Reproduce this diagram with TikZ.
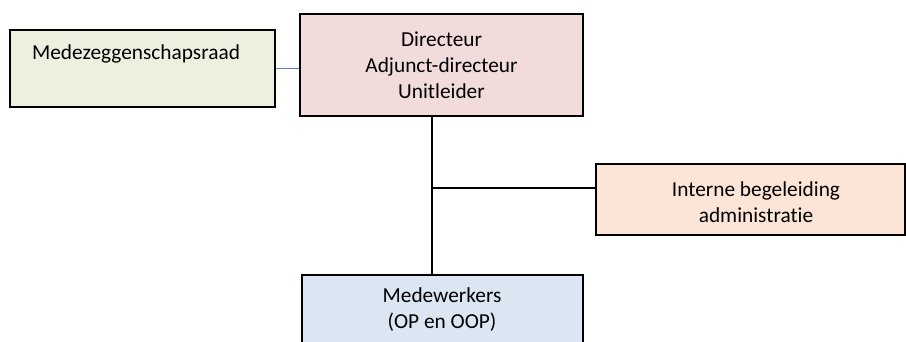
\documentclass[tikz,border=0pt]{standalone}
\usepackage{fontspec}
\setmainfont[Ligatures=NoCommon]{Carlito}
\usetikzlibrary{positioning, calc}

\definecolor{mrgreen}{HTML}{EBF1DE}
\definecolor{dirpink}{HTML}{F2DCDB}
\definecolor{ibpeach}{HTML}{FCE4D6}
\definecolor{mwblue}{HTML}{DCE6F2}
\definecolor{linkblue}{HTML}{4F81BD}

\begin{document}
\begin{tikzpicture}
		[x=0.75pt, y=-0.75pt,
		box/.style = {draw=black, rectangle, line width=1.1pt, inner sep=0pt},
		txt/.style = {align=center, inner sep=0pt, font=\fontsize{16}{19.5}\selectfont},
		link/.style = {draw=black, line width=1.4pt}]

		\useasboundingbox (0,0) rectangle (906,342);
		\clip (0,0) rectangle (906,342);

		% boxes
		\node[box, fill=mrgreen, minimum width=198.75pt, minimum height=57.75pt] (mr) at (142.5,68.5) {};
		\node[box, fill=dirpink, minimum width=212.25pt, minimum height=76.5pt] (dir) at (441.5,65) {};
		\node[box, fill=ibpeach, minimum width=231.75pt, minimum height=53.25pt] (ib) at (750.5,199.5) {};
		\node[box, fill=mwblue, minimum width=210.75pt, minimum height=63.75pt] (mw) at (442.5,317.5) {};

		% texts
		\node[txt] (mrtxt) at (136,54) {Medezeggenschapsraad};
		\node[txt] (dirtxt) at (dir) {Directeur\\Adjunct-directeur\\Unitleider};
		\node[txt] (ibtxt) at (756,202) {Interne begeleiding\\administratie};
		\node[txt] (mwtxt) at (442,310) {Medewerkers\\(OP en OOP)};

		% lines
		\coordinate (trunk) at (432,188);
		\draw[linkblue, line width=1pt] (mr.east) -- (mr.east -| dir.west);
		\draw[link] (trunk |- dir.south) -- (trunk |- mw.north);
		\draw[link] (trunk) -- (trunk -| ib.west);
	\end{tikzpicture}
\end{document}
